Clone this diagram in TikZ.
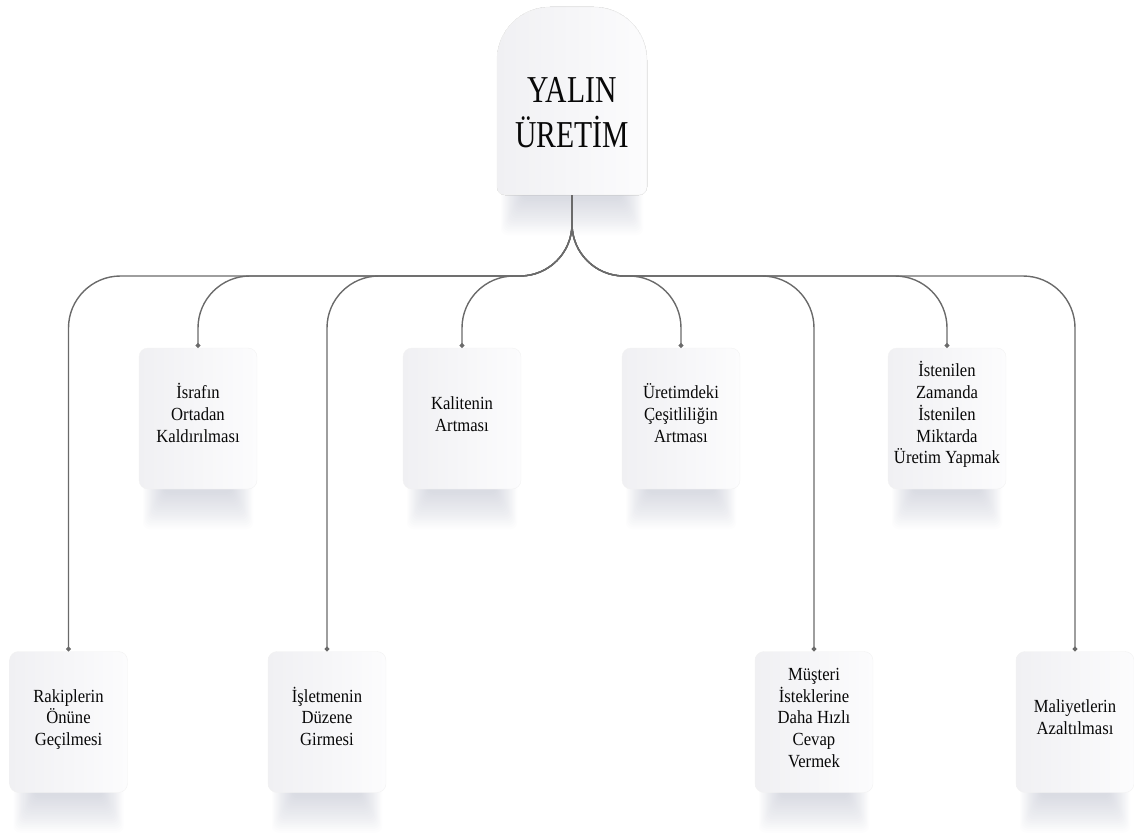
\documentclass[tikz,border=0pt]{standalone}
\usepackage{fontspec}
\usepackage{graphicx}
\setmainfont{Liberation Serif}
\usetikzlibrary{arrows.meta}

\definecolor{linkgray}{HTML}{6A6A6A}
\definecolor{inkblack}{HTML}{080808}
\definecolor{boxlight}{HTML}{FCFCFD}
\definecolor{boxshade}{HTML}{F0F0F3}
\definecolor{dropcol}{HTML}{737A96}

% horizontally condensed, centred block of lines, lifted a little above centre
\newcommand{\narrowblock}[2]{\raisebox{2.5pt}[\height][\depth]{\scalebox{#1}[1]{\begin{tabular}{@{}c@{}}#2\end{tabular}}}}

\tikzset{
  leafbox/.style={rectangle, rounded corners=9pt, minimum width=118pt,
    minimum height=141pt, inner sep=0pt,
    left color=boxshade, right color=boxlight, draw=black!5, line width=0.4pt,
    text=inkblack, font=\fontsize{18.5}{21.7}\selectfont},
  rootframe/.style={left color=boxshade, right color=boxlight, draw=black!5, line width=0.4pt},
  roottitle/.style={inner sep=0pt, text=inkblack,
    font=\fontsize{38}{44}\selectfont},
  link/.style={draw=linkgray, line width=1.4pt, rounded corners=52pt,
    -{Circle[length=4.6pt]}},
}

% soft shadow under a box: left x, right x, bottom y
\newcommand{\dropshadow}[3]{%
  \foreach \i in {0,...,19}{
    \fill[dropcol, opacity=0.016, rounded corners=6pt]
      (#1+4+1.1*\i, #3+30) rectangle (#2-4-1.1*\i, #3-40+1.9*\i);
  }%
}
% shadow plus card: name, centre x, centre y, text
\newcommand{\leafcard}[4]{%
  \dropshadow{#2-59}{#2+59}{#3-70.5}
  \node[leafbox] (#1) at (#2,#3) {\narrowblock{0.9}{#4}};
}

\begin{document}
\begin{tikzpicture}[x=1pt, y=1pt]
\useasboundingbox (0,0) rectangle (1134,-832);

% root card with arched top
\dropshadow{497}{647}{-195}
\fill[rootframe] (497,-187) -- (497,-60) arc[start angle=180, end angle=90, radius=53pt]
  -- (594,-7) arc[start angle=90, end angle=0, radius=53pt]
  -- (647,-187) arc[start angle=0, end angle=-90, radius=8pt]
  -- (505,-195) arc[start angle=-90, end angle=-180, radius=8pt] -- cycle;
\draw[black!5, line width=0.4pt] (497,-187) -- (497,-60) arc[start angle=180, end angle=90, radius=53pt]
  -- (594,-7) arc[start angle=90, end angle=0, radius=53pt]
  -- (647,-187) arc[start angle=0, end angle=-90, radius=8pt]
  -- (505,-195) arc[start angle=-90, end angle=-180, radius=8pt] -- cycle;
\node[minimum width=150pt, minimum height=188pt, inner sep=0pt] (root) at (572,-101) {};
\node[roottitle] (title) at (572,-118.5) {\narrowblock{0.78}{YALIN\\ÜRETİM}};

% upper row
\leafcard{israf}{198}{-418.5}{İsrafın\\Ortadan\\Kaldırılması}
\leafcard{kalite}{462}{-418.5}{Kalitenin\\Artması}
\leafcard{cesit}{681}{-418.5}{Üretimdeki\\Çeşitliliğin\\Artması}
\leafcard{zaman}{947}{-418.5}{İstenilen\\Zamanda\\İstenilen\\Miktarda\\Üretim Yapmak}

% lower row
\leafcard{rakip}{68.5}{-722}{Rakiplerin\\Önüne\\Geçilmesi}
\leafcard{duzen}{327}{-722}{İşletmenin\\Düzene\\Girmesi}
\leafcard{musteri}{814}{-722}{Müşteri\\İsteklerine\\Daha Hızlı\\Cevap\\Vermek}
\leafcard{maliyet}{1075}{-722}{Maliyetlerin\\Azaltılması}

% connectors from the root to every card
\coordinate (bus) at (572,-276);
\foreach \c in {rakip,israf,duzen,kalite,cesit,musteri,zaman,maliyet}{
  \draw[link] (root.south) -- (bus) -| (\c.north);
}
\end{tikzpicture}
\end{document}
